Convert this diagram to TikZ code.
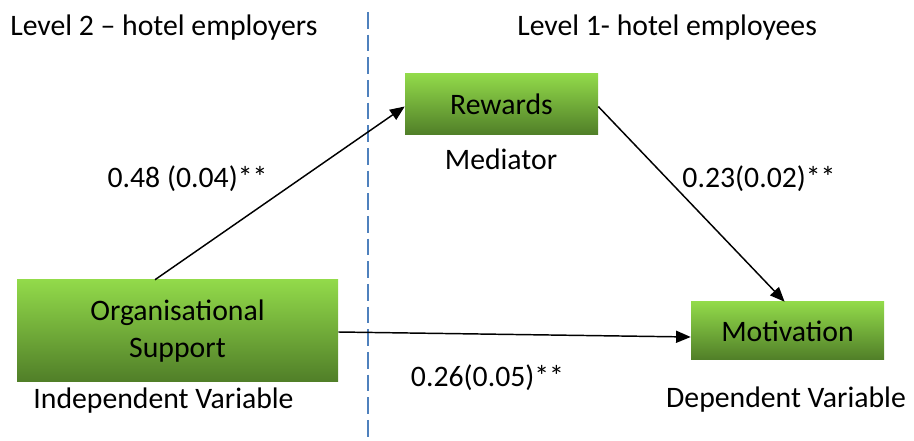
\documentclass[tikz,border=0pt]{standalone}
\usepackage{fontspec}
\setmainfont{Carlito}
\usetikzlibrary{arrows.meta,calc}
\definecolor{gtop}{RGB}{146,218,74}
\definecolor{gbot}{RGB}{80,126,40}
\definecolor{divider}{RGB}{79,129,189}
\tikzset{
  lbl/.style={font=\fontsize{22.3}{27.75}\selectfont, inner sep=0pt, anchor=base},
  varbox/.style={draw=none, top color=gtop, bottom color=gbot, inner sep=0pt,
    align=center, font=\fontsize{22.3}{27.75}\selectfont},
  path/.style={line width=1.1pt, -{Triangle[length=11pt,width=9pt]}},
}
\begin{document}
\begin{tikzpicture}[x=0.75pt,y=-0.75pt]
\useasboundingbox (0,0) rectangle (914,441);

% level headings and the divider between them
\node[lbl, anchor=base west] (lev2) at (10,36) {Level 2 -- hotel employers};
\node[lbl, anchor=base west] (lev1) at (517,36) {Level 1- hotel employees};
\coordinate (divtop) at (368,12);
\coordinate (divbot) at (368,441);
\draw[divider, line width=1.5pt, dash pattern=on 12.5pt off 4.5pt] (divtop) -- (divbot);

% variables
\node[varbox, minimum width=144.75pt, minimum height=45.75pt] (rew) at (501.5,104.5) {Rewards};
\node[varbox, minimum width=240.75pt, minimum height=76.5pt] (org) at (177.5,331) {Organisational\\Support};
\node[varbox, minimum width=144.75pt, minimum height=43.5pt] (mot) at (787.5,331) {Motivation};

% roles
\node[lbl] (med) at (501,170) {Mediator};
\node[lbl] (ind) at (163.5,409) {Independent Variable};
\node[lbl] (dep) at (786,408) {Dependent Variable};

% path coefficients
\node[lbl] (c1) at (187.5,188) {0.48 (0.04)**};
\node[lbl] (c2) at (759,188) {0.23(0.02)**};
\node[lbl] (c3) at (487.5,387) {0.26(0.05)**};

% paths
\draw[path] ($(org.north west)!0.43!(org.north east)$) -- ([yshift=-1.5pt]rew.west);
\draw[path] ([yshift=-1.5pt]rew.east) -- ($(mot.north west)!0.485!(mot.north east)$);
\draw[path] ([yshift=-0.75pt]org.east) -- ([yshift=-4.5pt]mot.west);
\end{tikzpicture}
\end{document}
